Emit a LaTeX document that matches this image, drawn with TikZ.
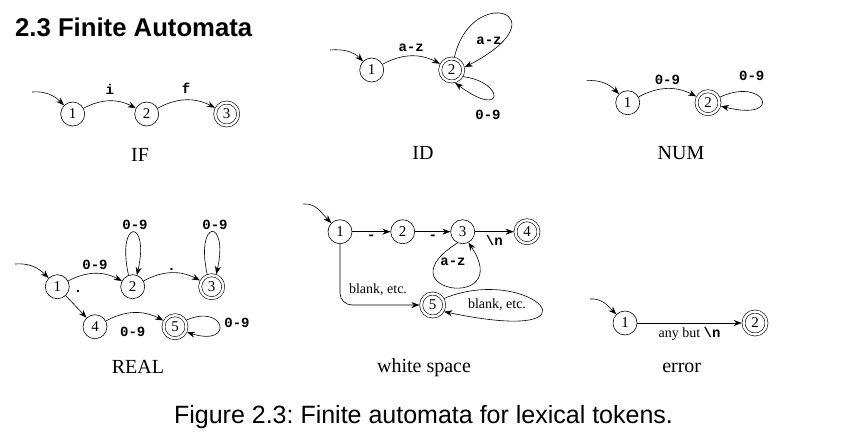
\documentclass[tikz,border=0pt]{standalone}
\usepackage{fontspec}
\setmainfont{Liberation Serif}
\newfontfamily\arialfont{Liberation Sans}
\newfontfamily\monofont{Liberation Mono}
\usetikzlibrary{arrows.meta}
\frenchspacing
\tikzset{
  st/.style={circle, draw, line width=0.6pt, minimum size=24pt, inner sep=0pt, font=\fontsize{15}{15}\selectfont},
  acc/.style={st, double, double distance=2.4pt, minimum size=23pt, outer sep=1.8pt},
  tr/.style={line width=0.6pt, -{Stealth[length=8pt,width=6pt]}},
  lab/.style={font=\monofont\bfseries\fontsize{14}{14}\selectfont, inner sep=1pt},
  slab/.style={font=\fontsize{14}{14}\selectfont, inner sep=1pt},
  sublab/.style={font=\fontsize{20}{20}\selectfont},
}
\begin{document}
\begin{tikzpicture}[x=1pt,y=-1pt]
\useasboundingbox (0,0) rectangle (845,437);
% title
\node[anchor=base west, inner sep=0pt, font=\arialfont\bfseries\fontsize{25.7}{26}\selectfont] (title) at (15,36) {2.3 Finite Automata};
% caption
\node[anchor=base, inner sep=0pt, font=\arialfont\fontsize{25}{25}\selectfont] (figcap) at (423.5,423) {Figure 2.3: Finite automata for lexical tokens.};

% IF
\node[st] (if1) at (72.7,114) {1};
\node[st] (if2) at (146.7,114) {2};
\node[acc] (if3) at (226.7,114) {3};
\coordinate (if0) at (32,92);
\draw[tr] (if0) to[out=5,in=135] (if1.135);
\draw[tr] (if1) to[bend left=28] node[lab, above=5pt] {i} (if2);
\draw[tr] (if2) to[bend left=28] node[lab, above=5pt] {f} (if3);
\node[sublab] (ifcap) at (140,155) {IF};

% ID
\node[st] (id1) at (371.7,70) {1};
\node[acc] (id2) at (451.7,70) {2};
\coordinate (id0) at (330,50);
\draw[tr] (id0) to[out=5,in=135] (id1.135);
\draw[tr] (id1) to[bend left=28] node[lab, above=3pt] {a-z} (id2);
\draw[tr] (id2.78) .. controls (472,-18) and (565,15) .. (id2.12);
\node[lab] (idl1) at (489,41) {a-z};
\draw[tr] (id2.-30) .. controls (505,82) and (505,120) .. (id2.-75);
\node[lab] (idl2) at (488,115) {0-9};
\node[sublab] (idcap) at (423,153) {ID};

% NUM
\node[st] (nm1) at (627.7,102.7) {1};
\node[acc] (nm2) at (708,102.7) {2};
\coordinate (nm0) at (586.7,80.7);
\draw[tr] (nm0) to[out=5,in=135] (nm1.135);
\draw[tr] (nm1) to[bend left=28] node[lab, above=3pt] {0-9} (nm2);
\draw[tr] (nm2.25) .. controls (765,76) and (785,122) .. (nm2.-15);
\node[lab] (nml) at (751.7,76) {0-9};
\node[sublab] (nmcap) at (681,153) {NUM};

% REAL
\node[st] (r1) at (57.3,286.7) {1};
\node[st] (r2) at (132.7,286.7) {2};
\node[acc] (r3) at (211.7,286.7) {3};
\node[st] (r4) at (95,326.7) {4};
\node[acc] (r5) at (175,326.7) {5};
\coordinate (r0) at (15,264);
\draw[tr] (r0) to[out=5,in=135] (r1.135);
\draw[tr] (r1) to[bend left=28] node[lab, above=3pt] {0-9} (r2);
\draw[tr] (r2) to[bend left=28] node[lab, above=1pt] {.} (r3);
\draw[tr] (r2.110) .. controls (116,218) and (150,218) .. (r2.70);
\node[lab] (rl2) at (135,225) {0-9};
\draw[tr] (r3.110) .. controls (195,218) and (229,218) .. (r3.70);
\node[lab] (rl3) at (215,225) {0-9};
\draw[tr] (r1) -- (r4);
\node[lab] (rdot) at (78,291) {.};
\draw[tr] (r4) to[bend left=28] (r5);
\node[lab] (rl45) at (132.7,331.7) {0-9};
\draw[tr] (r5.30) .. controls (225,303) and (235,347) .. (r5.-25);
\node[lab] (rl5) at (237,323) {0-9};
\node[sublab] (rcap) at (138,367) {REAL};

% white space
\node[st] (w1) at (340,231.7) {1};
\node[st] (w2) at (402.7,231.7) {2};
\node[st] (w3) at (462.7,231.7) {3};
\node[acc] (w4) at (527,231.7) {4};
\node[acc] (w5) at (432.7,305) {5};
\coordinate (w0) at (303,204);
\draw[tr] (w0) to[out=5,in=135] (w1.135);
\draw[tr] (w1) -- node[lab, below=2pt] {-} (w2);
\draw[tr] (w2) -- node[lab, below=2pt] {-} (w3);
\draw[tr] (w3) -- node[lab, below=2pt] {\textbackslash n} (w4);
\draw[tr] (w3.-115) .. controls (380,292) and (515,312) .. (w3.-62);
\node[lab] (wl3) at (453,261.7) {a-z};
\draw[tr, rounded corners=12pt] (w1.south) |- (w5.west);
\node[slab] (wl1) at (378,290) {blank, etc.};
\draw[tr] (w5.30) .. controls (530,263) and (612,347) .. (w5.-30);
\node[slab] (wl5) at (497,305) {blank, etc.};
\node[sublab] (wcap) at (424,368) {white space};

% error
\node[st] (e1) at (625,323) {1};
\node[acc] (e2) at (755,323) {2};
\coordinate (e0) at (590,299);
\draw[tr] (e0) to[out=5,in=135] (e1.135);
\draw[tr] (e1) -- node[below=3pt, inner sep=1pt, font=\fontsize{14}{14}\selectfont] {any but {\monofont\bfseries\textbackslash n}} (e2);
\node[sublab] (ecap) at (681.7,368.3) {error};
\end{tikzpicture}
\end{document}
